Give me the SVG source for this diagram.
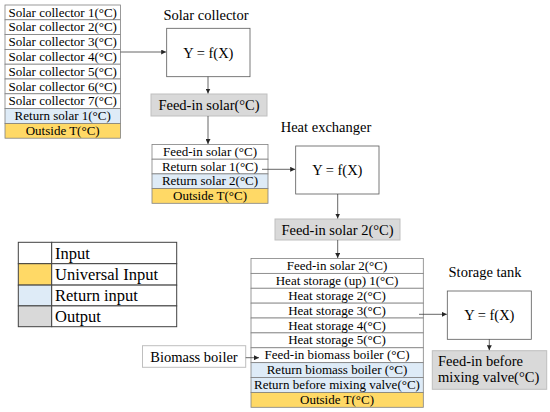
<svg xmlns="http://www.w3.org/2000/svg" width="550" height="412" viewBox="0 0 550 412" font-family="'Liberation Serif', 'DejaVu Serif', serif">
<defs>
<marker id="ah" viewBox="0 0 6 6" refX="6" refY="3" markerWidth="5" markerHeight="5" orient="auto" markerUnits="userSpaceOnUse">
<path d="M0,0 L6,3 L0,6 z" fill="#262626"/>
</marker>
<style>
text{fill:#000;font-family:'Liberation Serif','Times New Roman',serif}
.t{font-size:13px;text-anchor:middle}
.m{font-size:14.5px;text-anchor:middle}
.l{font-size:16.5px}
.w{fill:#fff;stroke:#808080;stroke-width:0.8}
.b{fill:#deebf7;stroke:#808080;stroke-width:0.8}
.y{fill:#ffd966;stroke:#808080;stroke-width:0.8}
.g{fill:#d9d9d9;stroke:#bfbfbf;stroke-width:1}
.f{fill:#fff;stroke:#595959;stroke-width:0.8}
.lg{stroke:#404040;stroke-width:1}
.c{stroke:#404040;stroke-width:0.8;fill:none;marker-end:url(#ah)}
</style>
</defs>
<rect width="550" height="412" fill="#fff"/>

<g id="solar-inputs">
<rect class="w" x="5" y="5" width="115.5" height="14.8"/>
<rect class="w" x="5" y="19.8" width="115.5" height="14.8"/>
<rect class="w" x="5" y="34.6" width="115.5" height="14.8"/>
<rect class="w" x="5" y="49.4" width="115.5" height="14.8"/>
<rect class="w" x="5" y="64.2" width="115.5" height="14.8"/>
<rect class="w" x="5" y="79" width="115.5" height="14.8"/>
<rect class="w" x="5" y="93.8" width="115.5" height="14.8"/>
<rect class="b" x="5" y="108.6" width="115.5" height="14.8"/>
<rect class="y" x="5" y="123.4" width="115.5" height="14.8"/>
<text class="t" x="62.7" y="16.5">Solar collector 1(°C)</text>
<text class="t" x="62.7" y="31.3">Solar collector 2(°C)</text>
<text class="t" x="62.7" y="46.1">Solar collector 3(°C)</text>
<text class="t" x="62.7" y="60.9">Solar collector 4(°C)</text>
<text class="t" x="62.7" y="75.7">Solar collector 5(°C)</text>
<text class="t" x="62.7" y="90.5">Solar collector 6(°C)</text>
<text class="t" x="62.7" y="105.3">Solar collector 7(°C)</text>
<text class="t" x="62.7" y="120.1">Return solar 1(°C)</text>
<text class="t" x="62.7" y="134.9">Outside T(°C)</text>
</g>

<g id="solar-collector">
<text class="m" x="206" y="20">Solar collector</text>
<rect class="f" x="166.7" y="28.3" width="83.3" height="48.4"/>
<text class="m" x="208.3" y="57.5">Y = f(X)</text>
</g>

<g id="feed-in-solar">
<rect class="g" x="151" y="94" width="116" height="22"/>
<text class="m" x="209" y="110">Feed-in solar(°C)</text>
</g>

<g id="exchanger-inputs">
<rect class="w" x="152" y="144.5" width="116" height="14.7"/>
<rect class="w" x="152" y="159.2" width="116" height="14.7"/>
<rect class="b" x="152" y="173.9" width="116" height="14.7"/>
<rect class="y" x="152" y="188.6" width="116" height="14.7"/>
<text class="t" x="210" y="155.9">Feed-in solar (°C)</text>
<text class="t" x="210" y="170.6">Return solar 1(°C)</text>
<text class="t" x="210" y="185.3">Return solar 2(°C)</text>
<text class="t" x="210" y="200">Outside T(°C)</text>
</g>

<g id="heat-exchanger">
<text class="m" x="326" y="132">Heat exchanger</text>
<rect class="f" x="295.7" y="146" width="83.3" height="48"/>
<text class="m" x="337.3" y="175">Y = f(X)</text>
</g>

<g id="feed-in-solar-2">
<rect class="g" x="275" y="219" width="125" height="21"/>
<text class="m" x="337.5" y="234.5">Feed-in solar 2(°C)</text>
</g>

<g id="storage-inputs">
<rect class="w" x="251" y="258.5" width="172.3" height="14.88"/>
<rect class="w" x="251" y="273.38" width="172.3" height="14.88"/>
<rect class="w" x="251" y="288.26" width="172.3" height="14.88"/>
<rect class="w" x="251" y="303.14" width="172.3" height="14.88"/>
<rect class="w" x="251" y="318.02" width="172.3" height="14.88"/>
<rect class="w" x="251" y="332.9" width="172.3" height="14.88"/>
<rect class="w" x="251" y="347.78" width="172.3" height="14.88"/>
<rect class="b" x="251" y="362.66" width="172.3" height="14.88"/>
<rect class="b" x="251" y="377.54" width="172.3" height="14.88"/>
<rect class="y" x="251" y="392.42" width="172.3" height="14.88"/>
<text class="t" x="337" y="270">Feed-in solar 2(°C)</text>
<text class="t" x="337" y="284.9">Heat storage (up) 1(°C)</text>
<text class="t" x="337" y="299.8">Heat storage 2(°C)</text>
<text class="t" x="337" y="314.6">Heat storage 3(°C)</text>
<text class="t" x="337" y="329.5">Heat storage 4(°C)</text>
<text class="t" x="337" y="344.4">Heat storage 5(°C)</text>
<text class="t" x="337" y="359.3">Feed-in biomass boiler (°C)</text>
<text class="t" x="337" y="374.2">Return biomass boiler (°C)</text>
<text class="t" x="337" y="389">Return before mixing valve(°C)</text>
<text class="t" x="337" y="403.9">Outside T(°C)</text>
</g>

<g id="storage-tank">
<text class="m" x="485" y="277">Storage tank</text>
<rect class="f" x="447.3" y="291" width="84" height="48.3"/>
<text class="m" x="489.3" y="320">Y = f(X)</text>
</g>

<g id="feed-in-before-mixing">
<rect class="g" x="432.3" y="350.7" width="114.4" height="38.6"/>
<text class="m" x="438" y="366" style="text-anchor:start">Feed-in before</text>
<text class="m" x="438" y="382" style="text-anchor:start">mixing valve(°C)</text>
</g>

<g id="biomass-boiler">
<rect x="142.5" y="345.7" width="103.2" height="21.6" fill="#fff" stroke="#bfbfbf" stroke-width="1"/>
<text class="m" x="194" y="361.5">Biomass boiler</text>
</g>

<g id="legend">
<rect x="18.3" y="242.3" width="33.4" height="21.4" fill="#fff" class="lg"/>
<rect x="18.3" y="263.7" width="33.4" height="21.4" fill="#ffd966" class="lg"/>
<rect x="18.3" y="285.1" width="33.4" height="20.8" fill="#deebf7" class="lg"/>
<rect x="18.3" y="305.9" width="33.4" height="20.8" fill="#d9d9d9" class="lg"/>
<rect x="51.7" y="242.3" width="125" height="21.4" fill="#fff" class="lg"/>
<rect x="51.7" y="263.7" width="125" height="21.4" fill="#fff" class="lg"/>
<rect x="51.7" y="285.1" width="125" height="20.8" fill="#fff" class="lg"/>
<rect x="51.7" y="305.9" width="125" height="20.8" fill="#fff" class="lg"/>
<text class="l" x="55" y="258.5">Input</text>
<text class="l" x="55" y="279.8">Universal Input</text>
<text class="l" x="55" y="300.8">Return input</text>
<text class="l" x="55" y="321.6">Output</text>
</g>

<g id="connectors">
<line class="c" x1="120.5" y1="52" x2="166.2" y2="52"/>
<line class="c" x1="208" y1="76.7" x2="208" y2="93.5"/>
<line class="c" x1="208" y1="116" x2="208" y2="144"/>
<line class="c" x1="262" y1="169.3" x2="295.2" y2="169.3"/>
<line class="c" x1="337.7" y1="194" x2="337.7" y2="218.5"/>
<line class="c" x1="337.7" y1="240" x2="337.7" y2="258"/>
<line class="c" x1="419" y1="314.3" x2="446.8" y2="314.3"/>
<line class="c" x1="489.3" y1="339.3" x2="489.3" y2="350.2"/>
<line class="c" x1="245.7" y1="357.7" x2="259" y2="357.7"/>
</g>
</svg>
